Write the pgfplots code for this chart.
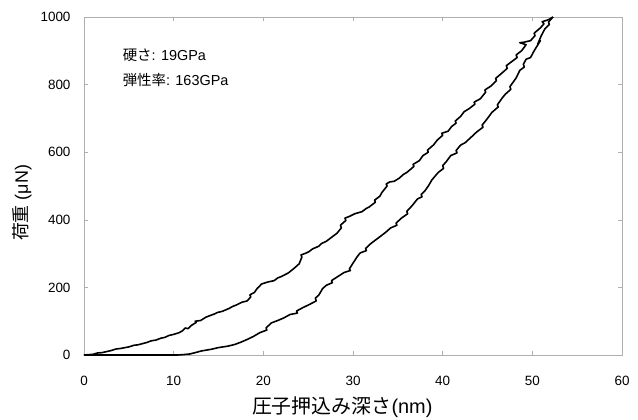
\documentclass[border=0pt]{standalone}
\usepackage{fontspec}
\setmainfont{Liberation Sans}
\newfontfamily\jp{Noto Sans CJK JP}
\usepackage{pgfplots}
\pgfplotsset{compat=1.18}
\definecolor{axgray}{RGB}{175,175,175}
\begin{document}
\begin{tikzpicture}[x=1bp,y=1bp]
\useasboundingbox (-84,-64) rectangle (554,355);
\begin{axis}[
  at={(0,0)}, anchor=south west,
  scale only axis, width=538bp, height=338bp,
  xmin=0, xmax=60, ymin=0, ymax=1000,
  xtick={0,10,...,60}, ytick={0,200,...,1000},
  axis line style={axgray, line width=0.8pt},
  tick style={axgray, line width=0.6pt},
  tick align=inside, major tick length=4bp,
  /pgf/number format/assume math mode=true,
  /pgf/number format/1000 sep={},
  ticklabel style={font=\fontsize{13.5}{15}\selectfont},
  xticklabel style={yshift=-18bp},
  yticklabel style={xshift=-10bp},
  xlabel={\jp 圧子押込み深さ\rmfamily(nm)},
  xlabel style={at={(rel axis cs:0.48,0)}, anchor=center, yshift=-52bp, font=\fontsize{20}{22}\selectfont},
  ylabel={{\jp 荷重} (μN)},
  ylabel style={at={(rel axis cs:-0.115,0.45)}, anchor=center, font=\fontsize{18}{20}\selectfont},
  clip=true,
]
\addplot[black, line width=1.6pt, line join=round] coordinates {
(0,0) (1,2) (1.5,6) (2,7) (3,13) (3.6,18) (4,19) (5,24) (5.6,29) (6,30) (7,37) (7.5,42) (8,44) (8.6,50) (9,52) (9.5,58) (10,61)
(10.6,66) (11,72) (11.3,80) (11.6,78) (12,88) (12.5,96) (12.4,100) (13,102) (13.6,112)
(14.5,121) (14.9,126) (15.4,129) (16.2,138) (16.6,144) (17,148) (17.6,156) (18.2,160) (18.6,172)
(18.5,178) (19,185) (19.4,200) (19.3,196) (19.8,210) (20.5,216) (21.2,220) (21.6,228)
(22,232) (22.8,243) (23.5,258) (24,270) (24.3,290) (24.2,296) (24.8,302) (25.1,306)
(25.5,314) (26.2,322) (26.5,330) (27,336) (27.6,348) (28.2,360) (28.7,376) (28.6,384)
(29.2,398) (29.1,405) (29.6,410) (30.2,418) (31,424) (31.5,434) (31.8,438) (32.5,452) (32.4,458) (33,470)
(33.2,480) (33.8,500) (33.7,506) (34.1,512) (34.6,514) (35.2,524) (35.6,534) (36,540) (36.8,558) (36.7,564)
(37.4,575) (37.8,590) (38.4,600) (38.3,606) (39,622) (39.4,636) (40,650) (39.9,656) (40.6,662)
(41,676) (41.5,686) (41.4,692) (42,706) (42.4,720) (42.9,728) (43.6,742) (43.5,748) (44.2,758)
(44.8,778) (44.7,784) (45.4,796) (46,812) (45.9,818) (46.6,834) (47.2,848) (47.1,856) (47.8,870) (48.3,880)
(48.2,888) (48.8,900) (49.3,918) (48.6,924) (49.0,925) (49.8,930) (50.3,945) (50.2,952) (50.9,968) (51.3,980)
(51.1,986) (51.8,992) (52.3,1000)
};
\addplot[black, line width=1.6pt, line join=round] coordinates {
(52.3,1000) (51.8,985) (51.9,978) (51.4,965) (51.0,945) (50.6,920) (50.9,930) (50.2,900)
(49.8,880) (49.3,875) (49.0,860) (49.1,852) (48.6,842) (48.2,820) (47.8,805) (47.5,794)
(47.6,786) (47.0,772) (46.6,759) (46.1,740) (46.2,734) (45.5,718) (45.0,700) (44.4,680) (44.5,674) (43.8,660)
(43.2,645) (42.5,628) (42.0,621) (41.5,605) (41.6,598) (40.9,590) (40.4,572) (40.0,560)
(40.1,552) (39.5,540) (38.8,518) (38.4,500) (38.0,485) (37.6,475) (37.7,468) (37.2,462) (36.6,442)
(36.0,425) (36.1,418) (35.4,405) (34.8,390) (34.9,384) (34.2,376) (33.6,362) (33.0,350) (32.6,342)
(32.0,330) (31.4,315) (31.5,309) (30.8,302) (30.5,292) (30.1,276) (29.6,255) (29.7,250) (29.0,244)
(28.3,232) (27.6,220) (27.7,214) (27.0,206) (26.6,196) (26.2,178) (25.8,168) (25.9,160) (25.1,149)
(24.4,140) (23.7,130) (23.8,124) (23.0,120) (22.3,110) (21.6,102) (20.9,95) (20.3,80) (20.4,74)
(19.6,66) (18.9,55) (18.2,46) (17.5,38) (16.8,31) (16.0,26) (15.0,22)
(14.2,17) (13.1,12) (12.4,7) (11.8,3) (11.0,1) (10.4,0) (0,0)
};
\node[anchor=west, font=\fontsize{14.5}{16}\selectfont, inner sep=0pt] at (axis cs:4.3,888) {{\jp 硬さ}: 19GPa};
\node[anchor=west, font=\fontsize{14.5}{16}\selectfont, inner sep=0pt] at (axis cs:4.3,814) {{\jp 弾性率}: 163GPa};
\end{axis}
\end{tikzpicture}
\end{document}
